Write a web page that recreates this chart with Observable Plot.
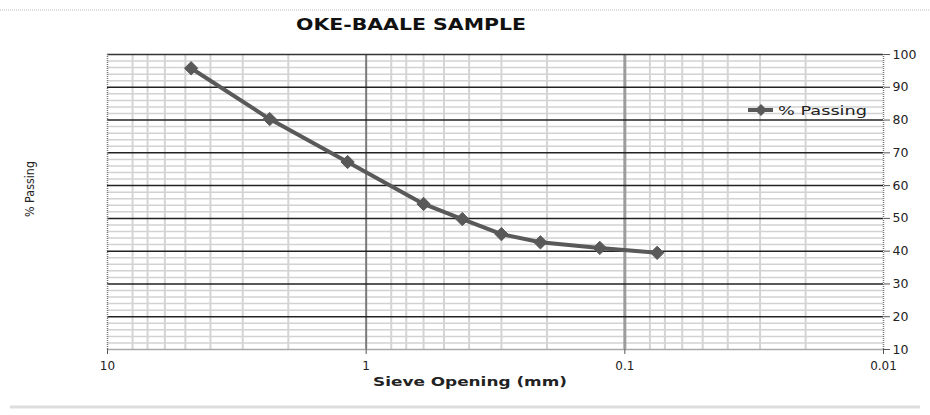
<!DOCTYPE html>
<html>
<head>
<meta charset="utf-8">
<script src="https://cdn.jsdelivr.net/npm/d3@7"></script>
<script src="https://cdn.jsdelivr.net/npm/@observablehq/plot@0.6"></script>
<style>
  html, body { margin: 0; padding: 0; background: #fff; }
  #chart { width: 930px; height: 415px; }
</style>
</head>
<body>
<div id="chart"></div>
<script>
// ---- data ----
const sieve = [4.75, 2.36, 1.18, 0.6, 0.425, 0.3, 0.212, 0.125, 0.075];
const passing = [95.8, 80.3, 67.2, 54.4, 49.8, 45.2, 42.7, 41.0, 39.5];
const xTicks = [10, 1, 0.1, 0.01];
const xTickLabels = ["10", "1", "0.1", "0.01"];
const yTicks = [10, 20, 30, 40, 50, 60, 70, 80, 90, 100];
const seriesName = "% Passing";
const titleText = "OKE-BAALE SAMPLE";
const xLabel = "Sieve Opening (mm)";
const yLabel = "% Passing";

const data = sieve.map((s, i) => ({ sieve: s, passing: passing[i] }));

// gridline positions
const minorMultipliers = [2, 3, 4, 5, 6, 7, 8];
const decades = [1, 0.1, 0.01];
const minorX = decades.flatMap(d => minorMultipliers.map(m => d * m));
const minorY = d3.range(12, 100, 2).filter(v => v % 10 !== 0);
const majorY = yTicks.filter(v => v > 10 && v < 100);

const lineColor = "#595959";
const W = 930, H = 415;
const mL = 107, mR = 47, mT = 54, mB = 66;

const chart = Plot.plot({
  width: W, height: H,
  marginLeft: mL, marginRight: mR, marginTop: mT, marginBottom: mB,
  style: { fontFamily: "DejaVu Sans, sans-serif", fontSize: "12px", background: "#fff", color: "#222", overflow: "visible" },
  x: { type: "log", domain: [10, 0.01] },
  y: { domain: [10, 100] },
  marks: [
    Plot.ruleY(minorY, { stroke: "#d2d2d2", strokeWidth: 1.5 }),
    Plot.ruleX(minorX, { stroke: "#d4d4d4", strokeWidth: 2 }),
    Plot.ruleX([1], { stroke: "#7a7a7a", strokeWidth: 2 }),
    Plot.ruleX([0.1], { stroke: "#9c9c9c", strokeWidth: 3 }),
    Plot.ruleY(majorY, { stroke: "#222", strokeWidth: 1.5 }),
    Plot.ruleY([100], { stroke: "#333", strokeWidth: 1.5 }),
    Plot.ruleY([10], { stroke: "#aaa", strokeWidth: 1.5 }),
    Plot.ruleX([10, 0.01], { stroke: "#777", strokeWidth: 1.5, strokeDasharray: "1,1" }),
    Plot.axisX({ ticks: xTicks, tickFormat: d => xTickLabels[xTicks.indexOf(d)], tickSize: 5, tickPadding: 7, label: null, fontSize: 12, stroke: "#555" }),
    Plot.axisY({ anchor: "right", ticks: yTicks, tickSize: 6, tickPadding: 3, label: null, fontSize: 12.5, stroke: "#555" }),
    Plot.line(data, { x: "sieve", y: "passing", stroke: lineColor, strokeWidth: 4, strokeLinejoin: "round" }),
    Plot.dot(data, { x: "sieve", y: "passing", symbol: "diamond2", r: 6, fill: lineColor, stroke: lineColor, strokeWidth: 1 })
  ]
});

document.getElementById("chart").appendChild(chart);

// ---- titles, legend, separators ----
const svg = d3.select(chart);
svg.append("line").attr("x1", 0).attr("x2", W).attr("y1", 10).attr("y2", 10)
  .attr("stroke", "#bbb").attr("stroke-width", 1).attr("stroke-dasharray", "1,1");
svg.append("line").attr("x1", 10).attr("x2", 920).attr("y1", 407).attr("y2", 407)
  .attr("stroke", "#ddd").attr("stroke-width", 3);

svg.append("text").text(titleText)
  .attr("x", 296).attr("y", 30).attr("text-anchor", "start")
  .attr("font-family", "DejaVu Sans, sans-serif").attr("font-weight", "bold").attr("font-size", 15)
  .attr("fill", "#111")
  .attr("textLength", 230).attr("lengthAdjust", "spacingAndGlyphs");

svg.append("text").text(xLabel)
  .attr("x", 373).attr("y", 386).attr("text-anchor", "start")
  .attr("font-family", "DejaVu Sans, sans-serif").attr("font-weight", "bold").attr("font-size", 13)
  .attr("fill", "#222")
  .attr("textLength", 194).attr("lengthAdjust", "spacingAndGlyphs");

svg.append("text").text(yLabel)
  .attr("transform", "translate(34,217) rotate(-90)").attr("text-anchor", "start")
  .attr("font-family", "DejaVu Sans, sans-serif").attr("font-size", 13)
  .attr("fill", "#222")
  .attr("textLength", 56).attr("lengthAdjust", "spacingAndGlyphs");

// legend
const lg = svg.append("g");
lg.append("line").attr("x1", 748).attr("x2", 773).attr("y1", 110).attr("y2", 110)
  .attr("stroke", lineColor).attr("stroke-width", 4);
lg.append("path").attr("d", d3.symbol(d3.symbolDiamond2, 90)()).attr("transform", "translate(761,110)")
  .attr("fill", lineColor);
lg.append("text").text(seriesName)
  .attr("x", 778).attr("y", 115).attr("text-anchor", "start")
  .attr("font-family", "DejaVu Sans, sans-serif").attr("font-size", 13)
  .attr("fill", "#222")
  .attr("textLength", 89).attr("lengthAdjust", "spacingAndGlyphs");
</script>
</body>
</html>
